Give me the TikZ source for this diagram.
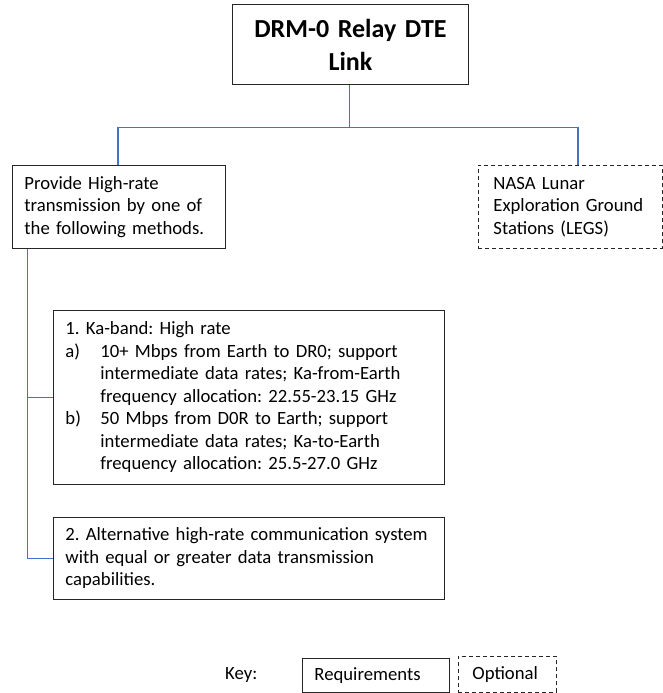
\documentclass[tikz,border=0pt]{standalone}
\usepackage{fontspec}
\setmainfont{Carlito}
\frenchspacing
\definecolor{linkblue}{HTML}{4472C4}
\newcommand\figbody{\fontsize{18.7}{22.5}\selectfont}
\newcommand\figtitle{\bfseries\fontsize{26}{33}\selectfont}
\begin{document}
\begin{tikzpicture}[x=1pt,y=-1pt,
  box/.style={draw=black!85, line width=0.9pt, rectangle, anchor=north west,
    inner xsep=12pt, inner ysep=0pt, align=left, font=\figbody},
  optbox/.style={box, dash pattern=on 4pt off 3pt},
  conn/.style={draw=linkblue, line width=1.1pt}]
\useasboundingbox (0,0) rectangle (663,693);
\node[box, minimum width=236pt, minimum height=80pt, text width=212pt,
  align=center, font=\figtitle] (top) at (232,4) {DRM-0 Relay DTE\\Link};
\node[box, minimum width=213pt, minimum height=83pt, text width=189pt] (left) at (12,165)
  {Provide High-rate\\transmission by one of\\the following methods.};
\node[optbox, minimum width=184pt, minimum height=83pt, inner xsep=15pt, text width=154pt] (right) at (478,165)
  {NASA Lunar\\Exploration Ground\\Stations (LEGS)};
\node[box, minimum width=391pt, minimum height=174pt, text width=367pt] (b1) at (53,310)
  {1. Ka-band: High rate\\
   \makebox[35pt][l]{a)}10+ Mbps from Earth to DR0; support\\
   \hspace*{35pt}intermediate data rates; Ka-from-Earth\\
   \hspace*{35pt}frequency allocation: 22.55-23.15 GHz\\
   \makebox[35pt][l]{b)}50 Mbps from D0R to Earth; support\\
   \hspace*{35pt}intermediate data rates; Ka-to-Earth\\
   \hspace*{35pt}frequency allocation: 25.5-27.0 GHz};
\node[box, minimum width=391pt, minimum height=82pt, text width=367pt] (b2) at (53,517)
  {2. Alternative high-rate communication system\\with equal or greater data transmission\\capabilities.};
\node[font=\figbody, anchor=west, inner sep=0pt] (key) at (225,675) {Key:};
\node[box, minimum width=147pt, minimum height=34pt, text width=123pt] (req) at (302,658) {Requirements};
\node[optbox, minimum width=98pt, minimum height=36pt, inner xsep=14pt, text width=70pt] (opt) at (458,656) {Optional};
% connectors
\coordinate (hub) at (349.5,127.5);
\draw[conn] (top.south -| hub) -- (hub);
\draw[conn] (hub) -| ([xshift=-1pt]left.north);
\draw[conn] (hub) -| ([xshift=7.5pt]right.north);
\draw[conn] ([xshift=15.5pt]left.south west) |- (b1.west);
\draw[conn] ([xshift=15.5pt]left.south west) |- (b2.west);
\end{tikzpicture}
\end{document}
